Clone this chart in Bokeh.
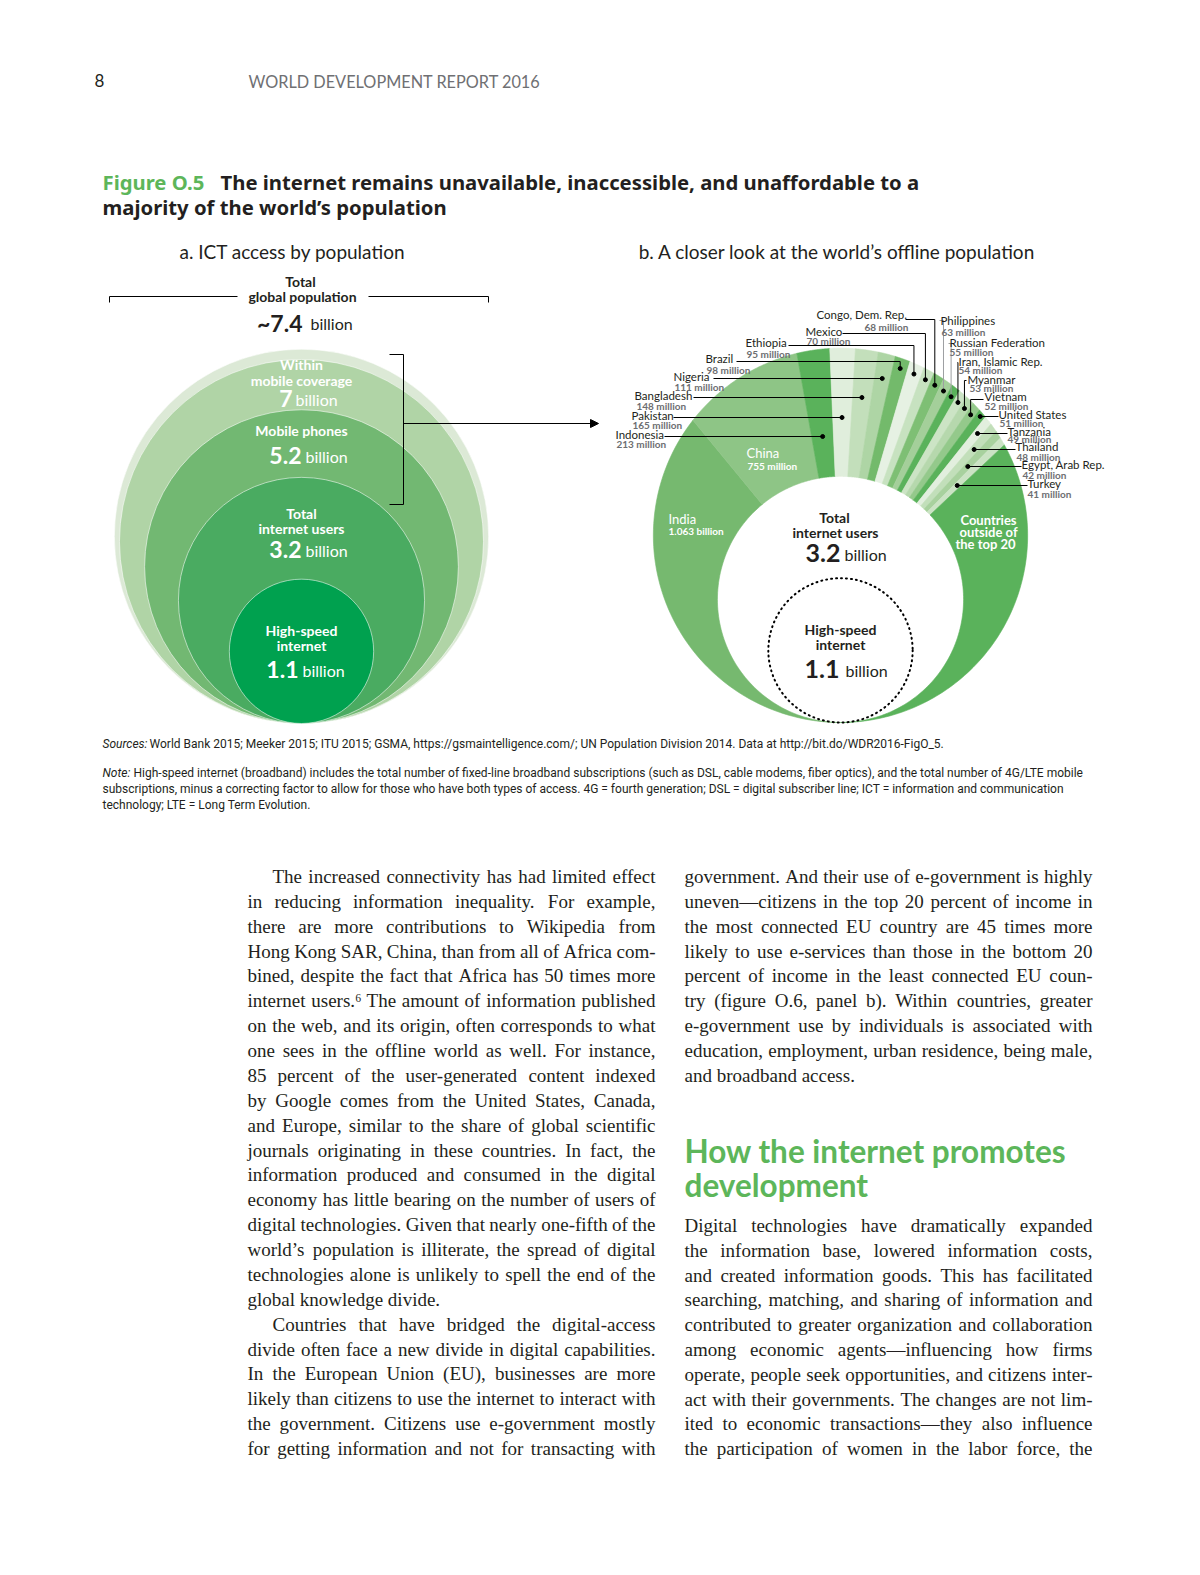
import numpy as np
from bokeh.plotting import figure
from bokeh.models import Range1d, ColumnDataSource, Arrow, NormalHead
from bokeh.core.properties import value
from bokeh.embed import file_html
from bokeh.resources import INLINE

# ---------------- data ----------------
# panel a: ICT access by population (billion people)
access_labels = ["Total global population", "Within mobile coverage", "Mobile phones",
                 "Total internet users", "High-speed internet"]
access_billion = [7.4, 7.0, 5.2, 3.2, 1.1]

# panel b: offline population by country (million people)
offline_countries = ["India", "China", "Indonesia", "Pakistan", "Bangladesh", "Nigeria", "Brazil",
                     "Ethiopia", "Mexico", "Congo, Dem. Rep.", "Philippines", "Russian Federation",
                     "Iran, Islamic Rep.", "Myanmar", "Vietnam", "United States", "Tanzania",
                     "Thailand", "Egypt, Arab Rep.", "Turkey", "Countries outside of the top 20"]
offline_million = [1063, 755, 213, 165, 148, 111, 98, 95, 70, 68, 63, 55, 54, 53, 52, 51, 49, 48,
                   42, 41, 906]

# ---------------- styles ----------------
a_colors = ["#dce9d6", "#b0d4a6", "#72b872", "#4aab61", "#00a14f"]
b_colors = ["#76b96f", "#8ec586", "#5ab25b", "#e0eedc", "#c3dfbb", "#aed5a5", "#73ba6b",
            "#e6f1e3", "#c7e2c0", "#7ebf74", "#a4cf9a", "#5ab25b", "#cce4c5", "#b6d8ad",
            "#94c98b", "#5ab25b", "#e2efde", "#c2dfba", "#a8d19e", "#cbe3c4", "#5ab25b"]
GREEN = "#5db65a"
INK = "#231f20"


def Y(py):
    return 1575 - py


p = figure(width=1184, height=1559, x_range=Range1d(0, 1184), y_range=Range1d(16, 1575),
           output_backend="svg", toolbar_location=None, min_border=0,
           x_axis_location=None, y_axis_location=None)
p.grid.visible = False
p.outline_line_color = None
p.background_fill_color = "white"
p.border_fill_color = "white"

groups = {}


def T(x, py, s, size, color=INK, font="Lato", style="normal", align="left"):
    key = (font, size, style, color, align)
    g = groups.setdefault(key, dict(x=[], y=[], text=[]))
    g["x"].append(x)
    g["y"].append(Y(py))
    g["text"].append(s)


lines_x, lines_y, lines_c = [], [], []


def L(xs, pys, color="black"):
    lines_x.append(list(xs))
    lines_y.append([Y(v) for v in pys])
    lines_c.append(color)


k = 68.8  # px per sqrt(billion): circle area proportional to population

# ---------------- panel a ----------------
acx, a_bottom = 301, Y(723)
ra = [k * np.sqrt(v) for v in access_billion]
p.circle(x=[acx] * len(ra), y=[a_bottom + r for r in ra], radius=ra,
         fill_color=a_colors, line_color="white", line_alpha=0.55, line_width=1)

W = "white"
T(301, 364, "Within", 14, W, style="bold", align="center")
T(301, 380, "mobile coverage", 14, W, style="bold", align="center")
T(292, 398, "7", 23, W, style="bold", align="right")
T(295, 399, "billion", 16, W)
T(301, 430, "Mobile phones", 14, W, style="bold", align="center")
T(301, 455, "5.2", 23, W, style="bold", align="right")
T(305, 456, "billion", 16, W)
T(301, 513, "Total", 14, W, style="bold", align="center")
T(301, 528, "internet users", 14, W, style="bold", align="center")
T(301, 549, "3.2", 23, W, style="bold", align="right")
T(305, 550, "billion", 16, W)
T(301, 630, "High-speed", 14, W, style="bold", align="center")
T(301, 645, "internet", 14, W, style="bold", align="center")
T(298, 669, "1.1", 23, W, style="bold", align="right")
T(302, 670, "billion", 16, W)

T(300, 281, "Total", 14, INK, style="bold", align="center")
T(302, 296, "global population", 14, INK, style="bold", align="center")
T(302, 322, "~7.4", 23, INK, style="bold", align="right")
T(310, 323, "billion", 16, INK)
L([109, 109, 237], [302, 296, 296])
L([368, 488, 488], [296, 296, 302])
L([389, 403, 403, 389], [354, 354, 504, 504])
p.add_layout(Arrow(end=NormalHead(size=8, fill_color="black", line_color="black"),
                   x_start=403, y_start=Y(423), x_end=598, y_end=Y(423), line_width=1))

T(292, 251, "a. ICT access by population", 19, INK, align="center")
T(837, 251, "b. A closer look at the world\u2019s offline population", 19, INK, align="center")

# ---------------- panel b ----------------
R = k * np.sqrt(access_billion[0])
ri = k * np.sqrt(access_billion[3])
rh = k * np.sqrt(access_billion[4])
bcx, b_bottom = 840, Y(722)
icy = b_bottom + ri
dd = R - ri


def r_out(th):
    return dd * np.sin(th) + np.sqrt(R ** 2 - (dd * np.cos(th)) ** 2)


th = np.linspace(1.5 * np.pi, -0.5 * np.pi, 36001)
f = 0.5 * (r_out(th) ** 2 - ri ** 2)
cum = np.concatenate([[0.0], np.cumsum(0.5 * (f[1:] + f[:-1]) * np.abs(np.diff(th)))])
fr = np.cumsum([0] + offline_million) / float(sum(offline_million)) * cum[-1]
bounds = np.interp(fr, cum, th)

pxs, pys = [], []
for i in range(len(offline_million)):
    t = np.linspace(bounds[i], bounds[i + 1], 90)
    tr = t[::-1]
    pxs.append(list(bcx + ri * np.cos(t)) + list(bcx + r_out(tr) * np.cos(tr)))
    pys.append(list(icy + ri * np.sin(t)) + list(icy + r_out(tr) * np.sin(tr)))
p.patches(pxs, pys, fill_color=b_colors, line_color=b_colors, line_width=0.6)

p.circle(x=[bcx], y=[b_bottom + rh], radius=[rh], fill_color=None, line_color="black",
         line_dash="1 4", line_width=2, line_cap="round")

# label layout (page coords): kind, name x/y, value x/y, leader start x/y
lab = {
    "Congo, Dem. Rep.": ("top", 816, 314, 864, 326, 905, 319),
    "Mexico": ("top", 805, 331, 806, 340, 842, 333),
    "Ethiopia": ("top", 745, 342, 746, 353, 788, 345),
    "Brazil": ("top", 705, 358, 706, 369, 736, 361),
    "Nigeria": ("side", 673, 376, 674, 386, 713, 378),
    "Bangladesh": ("side", 634, 395, 636, 405, 693, 397),
    "Pakistan": ("side", 631, 415, 632, 424, 673, 417),
    "Indonesia": ("side", 615, 434, 616, 443, 664, 436),
    "Philippines": ("top", 940, 320, 941, 331, 939, 320),
    "Russian Federation": ("top", 949, 342, 949, 351, 948, 343),
    "Iran, Islamic Rep.": ("top", 958, 361, 958, 369, 957, 362),
    "Myanmar": ("top", 967, 379, 969, 387, 966, 380),
    "Vietnam": ("top", 984, 396, 984, 405, 983, 399),
    "United States": ("side", 998, 414, 999, 422, 998, 416),
    "Tanzania": ("side", 1007, 431, 1007, 438, 1007, 433),
    "Thailand": ("side", 1015, 446, 1016, 456, 1015, 449),
    "Egypt, Arab Rep.": ("side", 1021, 464, 1022, 474, 1021, 466),
    "Turkey": ("side", 1027, 483, 1027, 493, 1027, 485),
}
gray_leaders = {"Philippines", "Russian Federation"}

dot_x, dot_y = [], []
for i, name in enumerate(offline_countries):
    if name not in lab:
        continue
    kind, nx, ny, vx, vy, lx, ly = lab[name]
    v = offline_million[i]
    vlab = ("%.3f billion" % (v / 1000.0)) if v >= 1000 else "%d million" % v
    T(nx, ny, name, 11.5, INK)
    T(vx, vy, vlab, 10, "#6d6e71", style="bold")
    tm = 0.5 * (bounds[i] + bounds[i + 1])
    col = "#9d9fa2" if name in gray_leaders else "black"
    if kind == "top":
        rr = r_out(tm) - 10
        dx, dy = bcx + rr * np.cos(tm), icy + rr * np.sin(tm)
        lines_x.append([lx, dx, dx])
        lines_y.append([Y(ly), Y(ly), dy])
        lines_c.append(col)
    else:
        dy = Y(ly)
        dx = bcx + (dy - icy) / np.tan(tm)
        lines_x.append([lx, dx])
        lines_y.append([dy, dy])
        lines_c.append(col)
    dot_x.append(dx)
    dot_y.append(dy)

# inside labels
T(746, 452, offline_countries[1], 13, W)
T(747, 465, "%d million" % offline_million[1], 10, W, style="bold")
T(668, 518, offline_countries[0], 13, W)
T(668, 530, "%.3f billion" % (offline_million[0] / 1000.0), 10, W, style="bold")
T(988, 519, "Countries", 13, W, style="bold", align="center")
T(988, 531, "outside of", 13, W, style="bold", align="center")
T(985, 543, "the top 20", 13, W, style="bold", align="center")

T(834, 517, "Total", 14, INK, style="bold", align="center")
T(835, 532, "internet users", 14, INK, style="bold", align="center")
T(840, 552, "3.2", 25, INK, style="bold", align="right")
T(844, 554, "billion", 16, INK)
T(840, 629, "High-speed", 14, INK, style="bold", align="center")
T(840, 644, "internet", 14, INK, style="bold", align="center")
T(839, 668, "1.1", 25, INK, style="bold", align="right")
T(845, 670, "billion", 16, INK)

p.multi_line(lines_x, lines_y, line_color=lines_c, line_width=1)
p.scatter(dot_x, dot_y, size=4, color="black")

# ---------------- page text ----------------
T(94, 80, "8", 17, INK)
T(248, 81, "WORLD DEVELOPMENT REPORT 2016", 16.3, "#6f7073")
T(102, 181, "Figure O.5", 20.3, GREEN, font="Noto Sans", style="bold")
T(220, 181, "The internet remains unavailable, inaccessible, and unaffordable to a", 20.3, INK,
  font="Noto Sans", style="bold")
T(102, 206, "majority of the world\u2019s population", 20.3, INK, font="Noto Sans", style="bold")

SF = "Roboto"
T(102, 743, "Sources:", 12, INK, font=SF, style="italic")
T(149, 743, "World Bank 2015; Meeker 2015; ITU 2015; GSMA, https://gsmaintelligence.com/; UN Population "
            "Division 2014. Data at http://bit.do/WDR2016-FigO_5.", 12, INK, font=SF)
T(102, 772, "Note:", 12, INK, font=SF, style="italic")
T(133, 772, "High-speed internet (broadband) includes the total number of fixed-line broadband subscriptions "
            "(such as DSL, cable modems, fiber optics), and the total number of 4G/LTE mobile", 12, INK, font=SF)
T(102, 788, "subscriptions, minus a correcting factor to allow for those who have both types of access. "
            "4G = fourth generation; DSL = digital subscriber line; ICT = information and communication",
  12, INK, font=SF)
T(102, 804, "technology; LTE = Long Term Evolution.", 12, INK, font=SF)

T(684, 1150, "How the internet promotes", 31.5, GREEN, style="bold")
T(684, 1184, "development", 31.5, GREEN, style="bold")

# body text (justified by word placement using Times metrics)
TW = {' ': 250, 'a': 444, 'b': 500, 'c': 444, 'd': 500, 'e': 444, 'f': 333, 'g': 500, 'h': 500,
      'i': 278, 'j': 278, 'k': 500, 'l': 278, 'm': 778, 'n': 500, 'o': 500, 'p': 500, 'q': 500,
      'r': 333, 's': 389, 't': 278, 'u': 500, 'v': 500, 'w': 722, 'x': 500, 'y': 500, 'z': 444,
      'A': 722, 'B': 667, 'C': 667, 'D': 722, 'E': 611, 'F': 556, 'G': 722, 'H': 722, 'I': 333,
      'J': 389, 'K': 722, 'L': 611, 'M': 889, 'N': 722, 'O': 722, 'P': 556, 'Q': 722, 'R': 667,
      'S': 556, 'T': 611, 'U': 722, 'V': 722, 'W': 944, 'X': 722, 'Y': 722, 'Z': 611,
      ',': 250, '.': 250, '-': 333, '(': 333, ')': 333, '\u2019': 333, '\u2014': 1000, ';': 278,
      ':': 278, '\u2076': 300}
BS = 19
BF = "Liberation Serif"


def wid(w):
    return sum(TW.get(c, 500) for c in w) * BS / 1000.0


def place_line(x0, x1, py, text, justify):
    words = text.split(" ")
    ws = [wid(w) for w in words]
    if justify and len(words) > 1:
        gap = (x1 - x0 - sum(ws)) / (len(words) - 1)
    else:
        gap = 0.25 * BS
    x = x0
    for j, (w, wv) in enumerate(zip(words, ws)):
        if justify and j == len(words) - 1 and len(words) > 1:
            T(x1, py, w, BS, INK, font=BF, align="right")
        else:
            T(x, py, w, BS, INK, font=BF)
        x += wv + gap


left_col = [
    (True, True, "The increased connectivity has had limited effect"),
    (False, True, "in reducing information inequality. For example,"),
    (False, True, "there are more contributions to Wikipedia from"),
    (False, True, "Hong Kong SAR, China, than from all of Africa com-"),
    (False, True, "bined, despite the fact that Africa has 50 times more"),
    (False, True, "internet users.\u2076 The amount of information published"),
    (False, True, "on the web, and its origin, often corresponds to what"),
    (False, True, "one sees in the offline world as well. For instance,"),
    (False, True, "85 percent of the user-generated content indexed"),
    (False, True, "by Google comes from the United States, Canada,"),
    (False, True, "and Europe, similar to the share of global scientific"),
    (False, True, "journals originating in these countries. In fact, the"),
    (False, True, "information produced and consumed in the digital"),
    (False, True, "economy has little bearing on the number of users of"),
    (False, True, "digital technologies. Given that nearly one-fifth of the"),
    (False, True, "world\u2019s population is illiterate, the spread of digital"),
    (False, True, "technologies alone is unlikely to spell the end of the"),
    (False, False, "global knowledge divide."),
    (True, True, "Countries that have bridged the digital-access"),
    (False, True, "divide often face a new divide in digital capabilities."),
    (False, True, "In the European Union (EU), businesses are more"),
    (False, True, "likely than citizens to use the internet to interact with"),
    (False, True, "the government. Citizens use e-government mostly"),
    (False, True, "for getting information and not for transacting with"),
]
right_col_a = [
    (False, True, "government. And their use of e-government is highly"),
    (False, True, "uneven\u2014citizens in the top 20 percent of income in"),
    (False, True, "the most connected EU country are 45 times more"),
    (False, True, "likely to use e-services than those in the bottom 20"),
    (False, True, "percent of income in the least connected EU coun-"),
    (False, True, "try (figure O.6, panel b). Within countries, greater"),
    (False, True, "e-government use by individuals is associated with"),
    (False, True, "education, employment, urban residence, being male,"),
    (False, False, "and broadband access."),
]
right_col_b = [
    (False, True, "Digital technologies have dramatically expanded"),
    (False, True, "the information base, lowered information costs,"),
    (False, True, "and created information goods. This has facilitated"),
    (False, True, "searching, matching, and sharing of information and"),
    (False, True, "contributed to greater organization and collaboration"),
    (False, True, "among economic agents\u2014influencing how firms"),
    (False, True, "operate, people seek opportunities, and citizens inter-"),
    (False, True, "act with their governments. The changes are not lim-"),
    (False, True, "ited to economic transactions\u2014they also influence"),
    (False, True, "the participation of women in the labor force, the"),
]
for x0, x1, y0, step, block in [(247, 655, 876, 24.87, left_col), (684, 1092, 876, 24.87, right_col_a),
                                (684, 1092, 1225, 24.8, right_col_b)]:
    for j, (indent, just, txt) in enumerate(block):
        place_line(x0 + (25 if indent else 0), x1, y0 + j * step, txt, just)

for (font, size, style, color, align), g in groups.items():
    p.text(x="x", y="y", text="text", source=ColumnDataSource(g), text_font=value(font),
           text_font_size="%spx" % size, text_font_style=style, text_color=color,
           text_align=align, text_baseline="middle")

open("out.html", "w").write(file_html(p, INLINE))
